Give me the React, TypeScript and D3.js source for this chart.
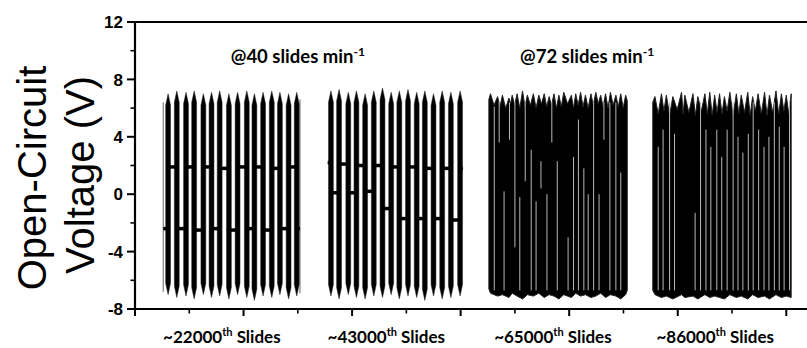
import React from "react";
import * as d3 from "d3";

const W = 807;
const H = 348;

// axis ticks
const yTicks = [-8, -4, 0, 4, 8, 12];
const yMinor = [-6, -2, 2, 6, 10];
const xMajor = [0, 20, 40, 60, 80, 100, 120];
const xMinor = [10, 30, 50, 70, 90, 110];

// @40 slides/min, block A (~22000th): slide centres (s), peak (V), trough (V)
const slowA_span = [5.2, 30.4];
const slowA_t = [6.1, 7.7, 9.4, 10.9, 12.6, 14.1, 15.6, 17.3, 18.9, 20.6, 22.0, 23.6, 25.2, 26.7, 28.3, 29.8];
const slowA_hi = [7.0, 7.2, 7.1, 7.2, 7.0, 7.1, 7.2, 7.0, 7.1, 7.2, 7.0, 7.1, 7.2, 7.1, 7.0, 7.1];
const slowA_lo = [-7.0, -7.2, -7.1, -7.3, -7.0, -7.2, -7.1, -7.3, -7.0, -7.2, -7.4, -7.1, -7.2, -7.0, -7.3, -7.1];
// rest level before, between and after slides
const slowA_rest = [-2.4, 1.9, -2.4, 1.9, -2.5, 1.9, -2.4, 1.8, -2.5, 1.9, -2.4, 1.9, -2.5, 1.8, -2.4, 1.9, -2.4];

// @40 slides/min, block B (~43000th)
const slowB_span = [35.5, 60.4];
const slowB_t = [36.1, 37.6, 39.3, 40.8, 42.4, 44.0, 45.6, 47.2, 48.7, 50.3, 51.9, 53.4, 55.0, 56.6, 58.2, 59.9];
const slowB_hi = [7.2, 7.3, 7.1, 7.2, 7.0, 7.2, 7.4, 7.1, 7.2, 7.3, 7.1, 7.2, 7.0, 7.2, 7.1, 7.2];
const slowB_lo = [-7.1, -7.3, -7.0, -7.2, -7.3, -7.1, -7.2, -7.0, -7.3, -7.1, -7.2, -7.4, -7.1, -7.3, -7.2, -7.1];
const slowB_rest = [2.2, 0.1, 2.1, 0.1, 2.0, 0.2, 2.0, -1.0, 1.9, -1.7, 1.9, -1.7, 1.8, -1.7, 1.8, -1.8, 1.8];

// @72 slides/min, block C (~65000th): envelope of the dense signal
const fastC_span = [65.2, 90.7];
const fastC_t = [65.5, 66.8, 67.7, 68.9, 69.5, 70.4, 71.4, 72.3, 73.4, 74.4, 75.4, 76.3, 77.2, 78.1, 79.0, 80.4, 81.2, 82.1, 83.0, 84.0, 84.9, 85.8, 86.7, 87.6, 88.6, 89.5, 90.4];
const fastC_hi = [7.0, 6.8, 6.9, 6.7, 6.9, 7.0, 7.2, 6.9, 7.0, 6.9, 7.0, 6.8, 7.0, 6.9, 7.1, 6.9, 7.0, 7.1, 6.9, 7.0, 7.1, 6.9, 7.0, 7.1, 6.9, 7.0, 6.9];
const fastC_dip = [6.2, 6.1, 6.0, 6.3, 6.2, 6.0, 6.1, 6.2, 6.0, 6.3, 6.1, 6.2, 6.0, 6.1, 6.3, 6.0, 6.2, 6.1, 6.0, 6.2, 6.3, 6.1, 6.0, 6.2, 6.1, 6.0];
const fastC_lo = [-6.9, -7.1, -7.0, -7.2, -6.9, -7.1, -7.3, -7.0, -7.1, -6.9, -7.2, -7.0, -7.1, -7.3, -7.0, -7.2, -6.9, -7.1, -7.0, -7.2, -7.1, -6.9, -7.2, -7.0, -7.1, -7.3, -7.0];
// visible gaps in the dense trace: [t, top V, bottom V]
const fastC_gaps: [number, number, number][] = [
  [66.2, 6.1, -6.7], [67.1, 6.4, 3.6], [68.0, 0.2, -6.7], [69.0, 6.4, 3.8], [70.0, 6.4, -3.7],
  [70.9, -0.2, -6.7], [71.9, 6.4, 0.9], [73.0, 3.1, -6.7], [73.9, -0.5, -6.7], [74.8, 2.3, 0.4],
  [75.9, 0.0, -6.7], [76.8, 6.4, 3.6], [77.8, 2.3, -6.7], [79.8, -3.0, -6.7], [80.8, 2.6, -6.7],
  [81.7, 5.2, -6.7], [82.7, 1.8, -6.7], [83.5, 0.0, -6.7], [84.5, 6.4, -6.7], [85.5, 0.0, -6.7],
  [86.4, 6.4, 3.8], [87.5, 6.4, -6.7], [88.6, 6.4, -6.7], [89.5, 1.5, -6.7],
];

// @72 slides/min, block D (~86000th)
const fastD_span = [95.4, 120.9];
const fastD_t = [95.8, 97.0, 97.9, 99.1, 100.7, 101.3, 102.8, 103.7, 105.0, 105.9, 106.8, 107.7, 108.6, 109.6, 110.8, 111.7, 112.9, 113.8, 114.8, 116.0, 116.9, 118.1, 119.1, 120.0, 120.9];
const fastD_hi = [6.8, 7.0, 6.9, 6.8, 7.1, 6.9, 7.0, 6.8, 7.0, 7.1, 6.9, 7.0, 6.8, 7.1, 7.0, 6.9, 7.1, 6.8, 7.0, 7.1, 6.9, 7.2, 7.0, 6.9, 7.0];
const fastD_dip = [5.6, 5.8, 5.5, 5.9, 5.6, 5.7, 5.5, 5.8, 5.6, 5.5, 5.7, 5.6, 5.8, 5.5, 5.6, 5.7, 5.5, 5.8, 5.6, 5.5, 5.7, 5.6, 5.8, 5.6];
const fastD_lo = [-7.0, -7.2, -7.1, -7.3, -7.0, -7.2, -7.1, -7.3, -7.0, -7.2, -7.1, -7.2, -7.3, -7.0, -7.2, -7.1, -7.3, -7.0, -7.2, -7.1, -7.3, -7.0, -7.2, -7.1, -7.2];
const fastD_gaps: [number, number, number][] = [
  [96.4, 3.3, -6.7], [97.3, 4.5, -6.7], [98.5, 6.4, -6.7], [99.4, 4.2, -6.7], [103.2, -1.3, -6.7],
  [104.2, 6.4, -6.7], [105.2, 4.5, -6.7], [106.1, 3.3, -6.7], [107.2, 4.5, -6.7], [108.1, 2.6, -6.7],
  [109.1, 4.5, -6.7], [110.2, 6.4, -6.7], [111.1, 4.0, -6.7], [112.0, 2.9, -6.7], [113.0, 4.2, -6.7],
  [113.9, 6.4, -6.7], [114.9, 4.5, -6.7], [115.9, 3.3, -6.7], [116.8, 4.0, -6.7], [117.8, 6.4, -6.7],
  [118.7, 4.7, -6.7], [119.6, 3.3, -6.7], [120.6, 6.4, -6.7],
];

// thin traces at the block edges: [t, top V, bottom V]
const edgeLines: [number, number, number][] = [[5.2, 6.4, -6.8], [30.4, 6.6, -6.9]];

const rates = [
  { label: "@40 slides min", sup: "-1", t: 30 },
  { label: "@72 slides min", sup: "-1", t: 83.3 },
];
const blockLabels = [
  { num: "~22000", t: 16 },
  { num: "~43000", t: 46.3 },
  { num: "~65000", t: 77 },
  { num: "~86000", t: 106.9 },
];

const x = d3.scaleLinear().domain([0, 124]).range([135, 808]);
const y = d3.scaleLinear().domain([-8, 12]).range([309, 22]);
const line = d3.line<[number, number]>().x((d) => x(d[0])).y((d) => y(d[1]));

const BAND = 0.9; // seconds
const TIP = 0.8; // volts

function SlowBlock({ span, t, hi, lo, rest }: { span: number[]; t: number[]; hi: number[]; lo: number[]; rest: number[] }) {
  const bands = t.map((c, i) => {
    const pts: [number, number][] = [
      [c - BAND / 2, lo[i] + TIP],
      [c - BAND / 2, hi[i] - TIP],
      [c, hi[i]],
      [c + BAND / 2, hi[i] - TIP],
      [c + BAND / 2, lo[i] + TIP],
      [c, lo[i]],
    ];
    return line(pts) + "Z";
  });
  const segs = rest.map((v, i) => {
    const a = i === 0 ? span[0] : t[i - 1];
    const b = i === t.length ? span[1] : t[i];
    return line([[a, v], [b, v]]);
  });
  return (
    <g>
      {bands.map((d, i) => (
        <path key={"b" + i} d={d!} fill="#000" stroke="#222" strokeWidth={0.5} />
      ))}
      {segs.map((d, i) => (
        <path key={"s" + i} d={d!} stroke="#000" strokeWidth={3.5} />
      ))}
    </g>
  );
}

function FastBlock({ span, t, hi, dip, lo, gaps }: { span: number[]; t: number[]; hi: number[]; dip: number[]; lo: number[]; gaps: [number, number, number][] }) {
  const top: [number, number][] = [[span[0], hi[0] - 0.4]];
  t.forEach((c, i) => {
    top.push([c, hi[i]]);
    if (i < dip.length) top.push([(c + t[i + 1]) / 2, dip[i]]);
  });
  top.push([span[1], hi[hi.length - 1] - 0.4]);
  const bottom: [number, number][] = [[span[1], lo[lo.length - 1] + 0.3]];
  for (let i = t.length - 1; i >= 0; i--) bottom.push([t[i], lo[i]]);
  bottom.push([span[0], lo[0] + 0.3]);
  const d = line([...top, ...bottom]) + "Z";
  return (
    <g>
      <path d={d} fill="#000" stroke="#222" strokeWidth={1} strokeLinejoin="round" />
      {gaps.map((g, i) => (
        <line key={i} x1={x(g[0])} x2={x(g[0])} y1={y(g[1])} y2={y(g[2])} stroke="#b8b8b8" strokeWidth={1} />
      ))}
    </g>
  );
}

export default function App() {
  const tickFont = "'Liberation Sans', Arial, sans-serif";
  const noteFont = "Lato, 'Open Sans', sans-serif";
  return (
    <svg width={W} height={H} style={{ position: "absolute", left: 0, top: 0, background: "#fff" }}>
      {edgeLines.map((e, i) => (
        <line key={"e" + i} x1={x(e[0])} x2={x(e[0])} y1={y(e[1])} y2={y(e[2])} stroke="#666" strokeWidth={1} />
      ))}
      <SlowBlock span={slowA_span} t={slowA_t} hi={slowA_hi} lo={slowA_lo} rest={slowA_rest} />
      <SlowBlock span={slowB_span} t={slowB_t} hi={slowB_hi} lo={slowB_lo} rest={slowB_rest} />
      <FastBlock span={fastC_span} t={fastC_t} hi={fastC_hi} dip={fastC_dip} lo={fastC_lo} gaps={fastC_gaps} />
      <FastBlock span={fastD_span} t={fastD_t} hi={fastD_hi} dip={fastD_dip} lo={fastD_lo} gaps={fastD_gaps} />

      {/* frame */}
      <line x1={x(0)} x2={W} y1={y(12)} y2={y(12)} stroke="#000" strokeWidth={2.2} />
      <line x1={x(0) - 1} x2={W} y1={y(-8)} y2={y(-8)} stroke="#000" strokeWidth={2.2} />
      <line x1={x(0)} x2={x(0)} y1={y(12) - 1} y2={y(-8) + 1} stroke="#000" strokeWidth={2.2} />

      {/* y ticks */}
      {yTicks.map((v) => (
        <g key={"yt" + v}>
          <line x1={x(0) - 8} x2={x(0)} y1={y(v)} y2={y(v)} stroke="#000" strokeWidth={2} />
          <text x={x(0) - 12} y={y(v)} dy="0.36em" textAnchor="end" fontFamily={tickFont} fontWeight="bold" fontSize={17}>
            {v}
          </text>
        </g>
      ))}
      {yMinor.map((v) => (
        <line key={"ym" + v} x1={x(0) - 4.5} x2={x(0)} y1={y(v)} y2={y(v)} stroke="#000" strokeWidth={1.6} />
      ))}
      {/* x ticks */}
      {xMajor.map((v) => (
        <line key={"xt" + v} x1={x(v)} x2={x(v)} y1={y(-8)} y2={y(-8) + 7} stroke="#000" strokeWidth={2} />
      ))}
      {xMinor.map((v) => (
        <line key={"xm" + v} x1={x(v)} x2={x(v)} y1={y(-8)} y2={y(-8) + 4.5} stroke="#000" strokeWidth={1.6} />
      ))}

      {/* y title */}
      <text transform={`translate(46,178) rotate(-90)`} textAnchor="middle" fontFamily={tickFont} fontSize={40}>
        Open-Circuit
      </text>
      <text transform={`translate(94,175) rotate(-90)`} textAnchor="middle" fontFamily={tickFont} fontSize={40}>
        Voltage (V)
      </text>

      {/* rate notes */}
      {rates.map((r) => (
        <text key={r.label + r.t} x={x(r.t)} y={63} textAnchor="middle" fontFamily={noteFont} fontWeight="bold" fontSize={18.5}>
          {r.label}
          <tspan dy={-7} fontSize={12}>{r.sup}</tspan>
        </text>
      ))}

      {/* block labels */}
      {blockLabels.map((b) => (
        <text key={b.num} x={x(b.t)} y={343} textAnchor="middle" fontFamily={noteFont} fontWeight="bold" fontSize={17}>
          {b.num}
          <tspan dy={-7} fontSize={11}>th</tspan>
          <tspan dy={7}> Slides</tspan>
        </text>
      ))}
    </svg>
  );
}
